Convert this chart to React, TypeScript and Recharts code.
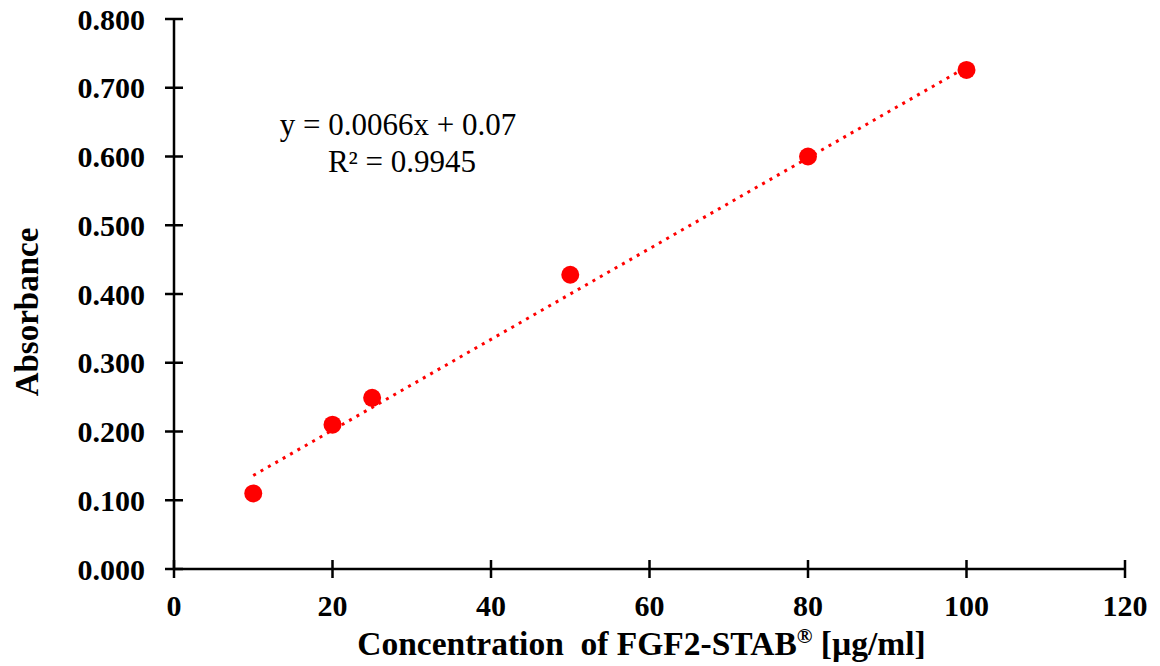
import React from 'react';
import { ScatterChart, Scatter, XAxis, YAxis, Label } from 'recharts';

const concentrations = [10, 20, 25, 50, 80, 100];
const absorbances = [0.110, 0.210, 0.249, 0.428, 0.600, 0.726];
const trendX = [10, 100];
const trendY = [0.136, 0.730];
const xTicks = [0, 20, 40, 60, 80, 100, 120];
const yTicks = [0, 0.1, 0.2, 0.3, 0.4, 0.5, 0.6, 0.7, 0.8];
const equation = 'y = 0.0066x + 0.07';
const rSquared = 'R² = 0.9945';

const points = concentrations.map((x, i) => ({ x, y: absorbances[i] }));
const trend = trendX.map((x, i) => ({ x, y: trendY[i] }));

const FONT = '"Liberation Serif", "Times New Roman", serif';
const TICK = 9;
const Y_MARGIN = 20;
const X_MARGIN = 17;

const YTick = (props: any) => {
    const { x, y, payload } = props;
    const axisX = x + TICK + Y_MARGIN;
    return (
        <g>
            <line x1={axisX} x2={axisX + TICK} y1={y} y2={y} stroke="#000" strokeWidth={2.5} />
            <text x={x} y={y} dy="0.35em" textAnchor="end" fontFamily={FONT} fontWeight="bold" fontSize={30} fill="#000">
                {Number(payload.value).toFixed(3)}
            </text>
        </g>
    );
};

const XTick = (props: any) => {
    const { x, y, payload } = props;
    const axisY = y - TICK - X_MARGIN;
    return (
        <g>
            <line x1={x} x2={x} y1={axisY} y2={axisY - TICK} stroke="#000" strokeWidth={2.5} />
            <text x={x} y={y} dy="0.71em" textAnchor="middle" fontFamily={FONT} fontWeight="bold" fontSize={30} fill="#000">
                {payload.value}
            </text>
        </g>
    );
};

const XTitle = (props: any) => {
    const { viewBox } = props;
    const cx = viewBox.x + viewBox.width / 2 - 8;
    return (
        <text x={cx} y={viewBox.y + 86} textAnchor="middle" fontFamily={FONT} fontWeight="bold" fontSize={33.5} fill="#000" style={{ whiteSpace: 'pre' }}>
            Concentration  of FGF2-STAB<tspan fontSize={21} dy={-12}>®</tspan><tspan dy={12}> [µg/ml]</tspan>
        </text>
    );
};

const YTitle = (props: any) => {
    const { viewBox } = props;
    const cy = viewBox.y + viewBox.height / 2 + 18;
    return (
        <text x={38} y={cy} transform={`rotate(-90, 38, ${cy})`} textAnchor="middle" fontFamily={FONT} fontWeight="bold" fontSize={33} fill="#000">
            Absorbance
        </text>
    );
};

const Dot = (props: any) => <circle cx={props.cx} cy={props.cy} r={9} fill="#ff0000" />;

const App: React.FC = () => {
    return (
        <div style={{ position: 'absolute', left: 0, top: 0, width: 1160, height: 666, background: '#fff' }}>
            <ScatterChart width={1160} height={666} margin={{ top: 19, right: 35, left: 0, bottom: 0 }}>
                <XAxis
                    type="number"
                    dataKey="x"
                    domain={[0, 120]}
                    ticks={xTicks}
                    interval={0}
                    height={97}
                    tickSize={TICK}
                    tickMargin={X_MARGIN}
                    axisLine={{ stroke: '#000', strokeWidth: 2.5 }}
                    tickLine={{ stroke: '#000', strokeWidth: 2.5 }}
                    tick={<XTick />}
                >
                    <Label content={<XTitle />} />
                </XAxis>
                <YAxis
                    type="number"
                    dataKey="y"
                    domain={[0, 0.8]}
                    ticks={yTicks}
                    interval={0}
                    width={174}
                    tickSize={TICK}
                    tickMargin={Y_MARGIN}
                    axisLine={{ stroke: '#000', strokeWidth: 2.5 }}
                    tickLine={{ stroke: '#000', strokeWidth: 2.5 }}
                    tick={<YTick />}
                >
                    <Label content={<YTitle />} />
                </YAxis>
                <Scatter
                    data={trend}
                    line={{ stroke: '#ff0000', strokeWidth: 3, strokeDasharray: '3 5.5' }}
                    shape={() => null}
                    isAnimationActive={false}
                />
                <Scatter data={points} shape={<Dot />} isAnimationActive={false} />
            </ScatterChart>
            <svg width={1160} height={666} style={{ position: 'absolute', left: 0, top: 0, pointerEvents: 'none' }}>
                <text x={398} y={135} textAnchor="middle" fontFamily={FONT} fontSize={31} fill="#000">{equation}</text>
                <text x={402} y={172} textAnchor="middle" fontFamily={FONT} fontSize={31} fill="#000">{rSquared}</text>
            </svg>
        </div>
    );
};

export default App;
